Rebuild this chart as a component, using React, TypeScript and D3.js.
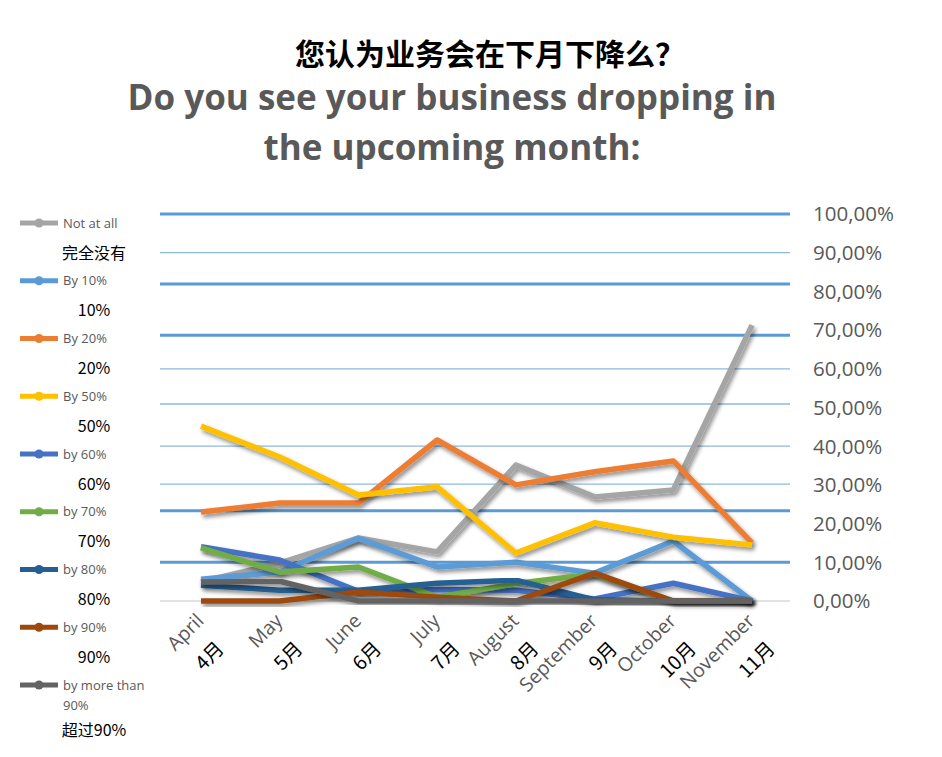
import * as d3 from 'd3';

// months on the x axis (English + Chinese labels)
const months = ['April', 'May', 'June', 'July', 'August', 'September', 'October', 'November'];
const monthsZh = ['4月', '5月', '6月', '7月', '8月', '9月', '10月', '11月'];

// series values (share of answers)
const notAtAll = [0.05, 0.098, 0.163, 0.127, 0.351, 0.269, 0.287, 0.713];
const by10 = [0.056, 0.075, 0.162, 0.088, 0.1, 0.072, 0.155, 0];
const by20 = [0.23, 0.253, 0.253, 0.416, 0.3, 0.334, 0.362, 0.15];
const by50 = [0.452, 0.372, 0.274, 0.295, 0.124, 0.202, 0.165, 0.145];
const by60 = [0.14, 0.106, 0.025, 0.03, 0.028, 0.005, 0.046, 0];
const by70 = [0.137, 0.075, 0.088, 0.01, 0.045, 0.07, 0, 0];
const by80 = [0.041, 0.028, 0.028, 0.046, 0.054, 0.003, 0, 0];
const by90 = [0, 0, 0.023, 0.01, 0, 0.072, 0, 0];
const byMore = [0.049, 0.051, 0, 0, 0, 0, 0, 0];

const seriesNames = ['Not at all', 'By 10%', 'By 20%', 'By 50%', 'by 60%', 'by 70%', 'by 80%', 'by 90%', 'by more than|90%'];
const seriesNamesZh = ['完全没有', '10%', '20%', '50%', '60%', '70%', '80%', '90%', '超过90%'];
const seriesValues = [notAtAll, by10, by20, by50, by60, by70, by80, by90, byMore];
const colors = ['#a5a5a5', '#5b9bd5', '#ed7d31', '#ffc000', '#4472c4', '#70ad47', '#255e91', '#9e480e', '#636363'];

// y ticks and the (slightly offset) grid lines of the original
const yTicks = d3.range(0, 1.01, 0.1);
const gridValues = [1, 0.9, 0.819, 0.687, 0.6, 0.509, 0.4, 0.302, 0.233, 0.1];
const gridThick = [true, false, true, true, false, false, false, false, true, true];

const W = 942;
const H = 757;

export default function App() {
  const x = d3.scalePoint<string>().domain(months).range([201, 752]);
  const y = d3.scaleLinear().domain([0, 1]).range([601, 214]);

  const line = d3
    .line<number>()
    .x((_, i) => x(months[i]) as number)
    .y((d) => y(d));

  const fmt = (v: number) => (v * 100).toFixed(2).replace('.', ',') + '%';

  const legendTop = 223;
  const legendStep = 57.75;

  return (
    <svg
      width={W}
      height={H}
      style={{ position: 'absolute', left: 0, top: 0, background: '#fff' }}
      fontFamily="'Open Sans', sans-serif"
    >
      <defs>
        <filter id="shadow" x="-10%" y="-10%" width="120%" height="130%">
          <feDropShadow dx="2" dy="3" stdDeviation="2" floodColor="#000" floodOpacity="0.45" />
        </filter>
      </defs>

      {/* titles */}
      <text x={490} y={65} textAnchor="middle" fontSize={30} fontWeight="bold" fill="#000"
        fontFamily="'Noto Sans CJK SC', sans-serif">
        您认为业务会在下月下降么？
      </text>
      <text x={452} y={110} textAnchor="middle" fontSize={35} fontWeight="bold" fill="#595959">
        Do you see your business dropping in
      </text>
      <text x={452} y={160} textAnchor="middle" fontSize={35} fontWeight="bold" fill="#595959">
        the upcoming month:
      </text>

      {/* grid */}
      <line x1={160} x2={790} y1={y(0)} y2={y(0)} stroke="#d9d9d9" strokeWidth={1.5} />
      {gridValues.map((g, i) => (
        <line key={i} x1={160} x2={790} y1={y(g)} y2={y(g)}
          stroke={gridThick[i] ? '#5b9bd5' : '#8db8e2'}
          strokeWidth={gridThick[i] ? 3 : 1.3} />
      ))}

      {/* y axis labels */}
      {yTicks.map((t) => (
        <text key={t} x={813} y={y(t)} dy="0.36em" fontSize={20.5} fill="#595959">
          {fmt(t)}
        </text>
      ))}

      {/* series */}
      {seriesValues.map((vals, i) => (
        <path key={i} d={line(vals) as string} fill="none" stroke={colors[i]}
          strokeWidth={5.5} strokeLinejoin="round" filter="url(#shadow)" />
      ))}

      {/* x axis labels */}
      {months.map((m, i) => {
        const px = x(m) as number;
        return (
          <g key={m}>
            <text transform={`translate(${px + 4},${622}) rotate(-45)`} textAnchor="end"
              fontSize={19.5} fill="#595959">
              {m}
            </text>
            <text transform={`translate(${px + 24},${650}) rotate(-45)`} textAnchor="end"
              fontSize={19.5} fill="#000" fontFamily="'Noto Sans CJK SC', sans-serif">
              {monthsZh[i]}
            </text>
          </g>
        );
      })}

      {/* legend */}
      {seriesNames.map((name, i) => {
        const ly = legendTop + i * legendStep;
        const parts = name.split('|');
        return (
          <g key={name}>
            <line x1={20} x2={58} y1={ly} y2={ly} stroke={colors[i]} strokeWidth={5} />
            <circle cx={39} cy={ly} r={4.5} fill={colors[i]} />
            {parts.map((p, j) => (
              <text key={j} x={63} y={ly + j * 20} dy="0.35em" fontSize={13} fill="#595959">
                {p}
              </text>
            ))}
            <text x={94} y={ly + (parts.length > 1 ? 45 : 30)} dy="0.35em" textAnchor="middle"
              fontSize={16} fill="#000" fontFamily="'Noto Sans CJK SC', sans-serif">
              {seriesNamesZh[i]}
            </text>
          </g>
        );
      })}
    </svg>
  );
}
